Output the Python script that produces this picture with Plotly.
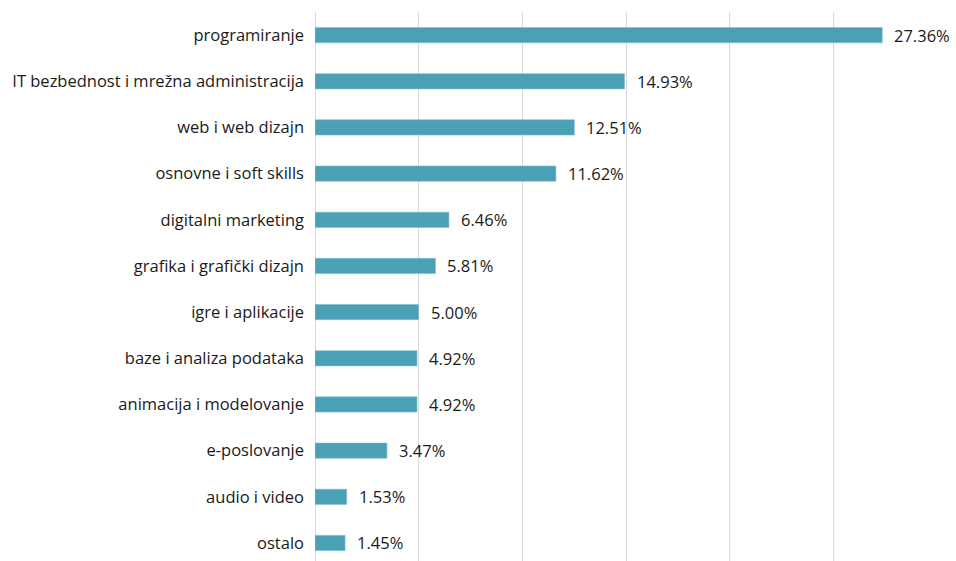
import plotly.graph_objects as go

categories = [
    "programiranje",
    "IT bezbednost i mrežna administracija",
    "web i web dizajn",
    "osnovne i soft skills",
    "digitalni marketing",
    "grafika i grafički dizajn",
    "igre i aplikacije",
    "baze i analiza podataka",
    "animacija i modelovanje",
    "e-poslovanje",
    "audio i video",
    "ostalo",
]
values = [27.36, 14.93, 12.51, 11.62, 6.46, 5.81, 5.00, 4.92, 4.92, 3.47, 1.53, 1.45]
labels = [f"{v:.2f}%" for v in values]

BAR = "#4AA0B5"
FONT = "Open Sans, Lato, sans-serif"
TXT = "#1a1a1a"
FS = 16.5

fig = go.Figure(
    go.Bar(
        x=values,
        y=categories,
        orientation="h",
        marker=dict(color=BAR, line=dict(color="#7fc0cf", width=0.6)),
        width=0.33,
        hoverinfo="skip",
    )
)

for c, v, t in zip(categories, values, labels):
    fig.add_annotation(
        x=v, y=c, text=t, showarrow=False,
        xanchor="left", yanchor="middle", xshift=10,
        font=dict(family=FONT, size=FS, color=TXT),
    )

fig.update_layout(
    width=956,
    height=561,
    margin=dict(l=315, r=19, t=12, b=0, autoexpand=False),
    paper_bgcolor="white",
    plot_bgcolor="white",
    showlegend=False,
    font=dict(family=FONT, size=FS, color=TXT),
    xaxis=dict(
        range=[0, 30],
        dtick=5,
        showgrid=True,
        gridcolor="#d9d9d9",
        gridwidth=1,
        zeroline=True,
        zerolinecolor="#d9d9d9",
        zerolinewidth=1,
        showticklabels=False,
        automargin=False,
        fixedrange=True,
    ),
    yaxis=dict(
        type="category",
        categoryorder="array",
        categoryarray=categories,
        range=[11.39, -0.5],
        showgrid=False,
        zeroline=False,
        ticks="",
        automargin=False,
        fixedrange=True,
        ticklabelstandoff=10,
        tickfont=dict(family=FONT, size=FS, color=TXT),
    ),
)

fig.write_html(
    "out.html",
    config={"displayModeBar": False, "staticPlot": True},
    post_script="document.body.style.margin='0';document.body.style.overflow='hidden';",
)
